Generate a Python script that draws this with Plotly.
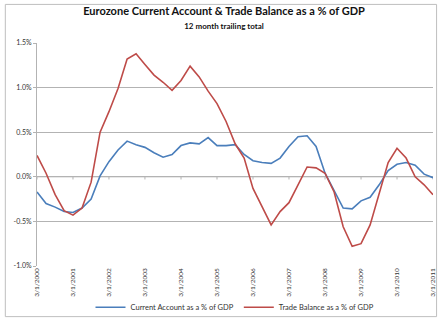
import plotly.graph_objects as go
import pandas as pd

dates = pd.date_range("2000-03-01", periods=45, freq="QS-MAR")
current_account = [-0.17, -0.30, -0.34, -0.39, -0.40, -0.35, -0.25, 0.01, 0.17, 0.30,
                   0.40, 0.36, 0.33, 0.27, 0.22, 0.25, 0.35, 0.38, 0.37, 0.44,
                   0.35, 0.35, 0.36, 0.25, 0.18, 0.16, 0.15, 0.21, 0.34, 0.45,
                   0.46, 0.34, 0.04, -0.15, -0.35, -0.36, -0.27, -0.23, -0.09, 0.07,
                   0.14, 0.16, 0.13, 0.03, -0.01]
trade_balance = [0.24, 0.04, -0.20, -0.38, -0.43, -0.35, -0.06, 0.50, 0.73, 0.99,
                 1.32, 1.38, 1.26, 1.14, 1.06, 0.97, 1.08, 1.24, 1.12, 0.96,
                 0.82, 0.62, 0.37, 0.21, -0.13, -0.34, -0.54, -0.39, -0.29, -0.09,
                 0.11, 0.10, 0.04, -0.17, -0.56, -0.78, -0.75, -0.54, -0.19, 0.16,
                 0.32, 0.21, 0.00, -0.09, -0.20]
y_ticks = [-1.0, -0.5, 0.0, 0.5, 1.0, 1.5]
y_labels = ["-1.0%", "-0.5%", "0.0%", "0.5%", "1.0%", "1.5%"]
x_ticks = [dates[i] for i in range(0, 45, 4)]
x_labels = [f"{d.month}/{d.day}/{d.year}" for d in x_ticks]

font = "Lato, 'Open Sans', sans-serif"
fig = go.Figure()
fig.add_trace(go.Scatter(x=dates, y=current_account, mode="lines",
                         name="Current Account as a % of GDP",
                         line=dict(color="#4a7ebb", width=1.6)))
fig.add_trace(go.Scatter(x=dates, y=trade_balance, mode="lines",
                         name="Trade Balance as a % of GDP",
                         line=dict(color="#be4b48", width=1.6)))

shapes = [dict(type="rect", xref="paper", yref="paper",
               x0=-0.080, x1=1.009, y0=-0.227, y1=1.173,
               line=dict(color="#bfbfbf", width=1), layer="below"),
          dict(type="line", xref="paper", yref="y", x0=0, x1=1, y0=0, y1=0,
               line=dict(color="#b3b3b3", width=1), layer="below")]
for t in x_ticks:
    shapes.append(dict(type="line", xref="x", yref="y", x0=t, x1=t, y0=0, y1=-0.03,
                       line=dict(color="#b3b3b3", width=1), layer="below"))

fig.update_layout(
    width=448, height=326,
    margin=dict(l=37, r=15, t=43, b=60, autoexpand=False),
    paper_bgcolor="white", plot_bgcolor="white",
    font=dict(family=font, size=8, color="#333"),
    title=dict(
        text="<b>Eurozone Current Account & Trade Balance as a % of GDP</b><br>"
             "<span style='font-size:8px'><b>12 month trailing total</b></span>",
        x=0.5, xanchor="center", y=0.955, yanchor="top",
        font=dict(family=font, size=11, color="#111")),
    showlegend=True,
    legend=dict(orientation="h", x=0.5, xanchor="center", y=-0.12, yanchor="top",
                font=dict(size=7.5, color="#333"), itemwidth=30,
                bgcolor="rgba(0,0,0,0)"),
    xaxis=dict(range=[dates[0], dates[-1]], tickvals=x_ticks, ticktext=x_labels,
               tickangle=-90, showgrid=False, showline=False, zeroline=False,
               automargin=False,
               ticks="", tickfont=dict(size=6.5, color="#333")),
    yaxis=dict(range=[-1.0, 1.5], tickvals=y_ticks, ticktext=y_labels,
               showgrid=True, gridcolor="#b3b3b3", gridwidth=1,
               zeroline=False, showline=True, linecolor="#b3b3b3", linewidth=1,
               automargin=False,
               ticks="outside", ticklen=3, tickcolor="#b3b3b3",
               tickfont=dict(size=7, color="#333")),
    shapes=shapes,
)
fig.write_html("out.html")
